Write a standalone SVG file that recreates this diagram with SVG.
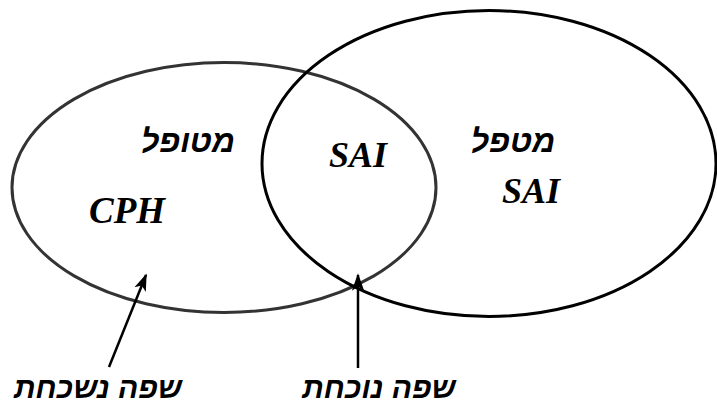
<svg xmlns="http://www.w3.org/2000/svg" width="717" height="407" viewBox="0 0 717 407">
<style>
.lbl{font-family:"Liberation Serif","DejaVu Serif",serif;font-weight:bold;font-style:italic;fill:#000;text-anchor:middle}
.he{direction:rtl;font-family:"Liberation Sans","DejaVu Sans",sans-serif}
.conn{stroke:#000;stroke-width:2.5;fill:none}
</style>
<defs>
<marker id="ah" viewBox="0 0 10 10" refX="9" refY="5" markerWidth="7" markerHeight="7" markerUnits="strokeWidth" orient="auto">
<path d="M0,1.5 L10,5 L0,8.5 L2.5,5 Z" fill="#000"/>
</marker>
</defs>
<rect width="717" height="407" fill="#fff"/>
<g id="treated-cph">
<ellipse cx="224" cy="187.5" rx="212" ry="125" fill="none" stroke="#333" stroke-width="3"/>
<text class="lbl he" x="188" y="152" font-size="32">מטופל</text>
<text class="lbl" x="127" y="223" font-size="37">CPH</text>
</g>
<g id="therapist-sai">
<ellipse cx="489" cy="163.5" rx="227" ry="153" fill="none" stroke="#000" stroke-width="3"/>
<text class="lbl he" x="513" y="152" font-size="32">מטפל</text>
<text class="lbl" x="531" y="203" font-size="36">SAI</text>
</g>
<g id="overlap">
<text class="lbl" x="358" y="167" font-size="36">SAI</text>
</g>
<g id="label-forgotten">
<text class="lbl he" x="98" y="398" font-size="30">שפה נשכחת</text>
</g>
<g id="label-present">
<text class="lbl he" x="379" y="398" font-size="30">שפה נוכחת</text>
</g>
<g id="connectors">
<line class="conn" x1="109" y1="367" x2="146" y2="275" marker-end="url(#ah)"/>
<line class="conn" x1="358" y1="368" x2="358" y2="275" marker-end="url(#ah)"/>
</g>
</svg>
